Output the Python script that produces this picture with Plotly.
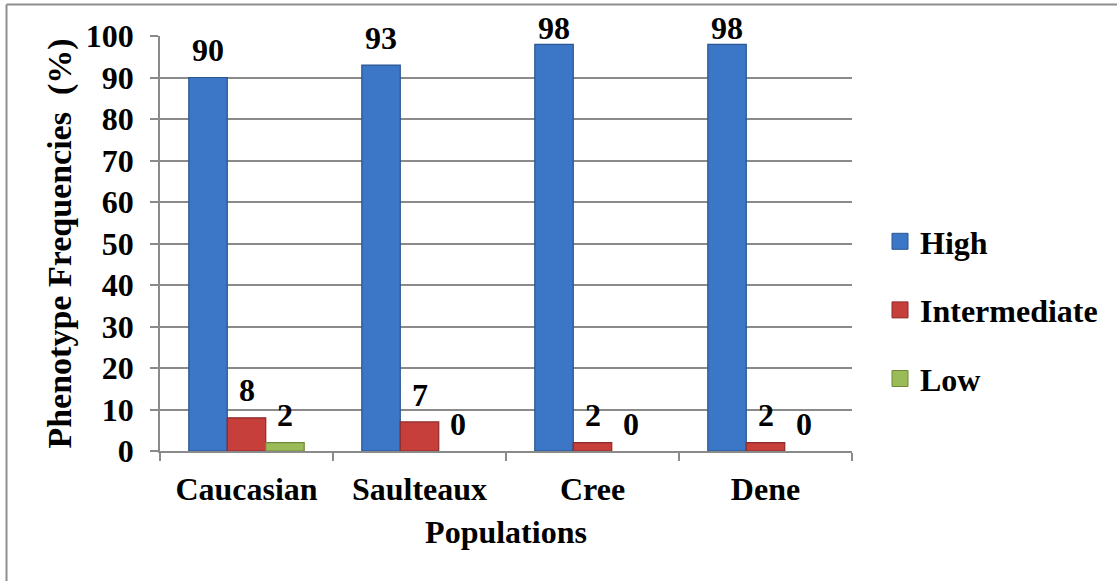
import plotly.graph_objects as go

# Phenotype frequencies (%) by population
populations = ["Caucasian", "Saulteaux", "Cree", "Dene"]
high = [90, 93, 98, 98]
intermediate = [8, 7, 2, 2]
low = [2, 0, 0, 0]

series_names = ["High", "Intermediate", "Low"]
series_values = [high, intermediate, low]
fill_colors = ["#3c76c6", "#c63f3b", "#9bbb59"]
edge_colors = ["#2a5590", "#8c2b28", "#6e8a38"]

FONT = "Liberation Serif, Times New Roman, serif"
FS = 32
W, H = 1117, 581
L, R, T, B = 160, 265, 36, 130
plot_w, plot_h = W - L - R, H - T - B
px_per_unit = plot_h / 100

fig = go.Figure()
for name, vals, fc, ec in zip(series_names, series_values, fill_colors, edge_colors):
    fig.add_trace(go.Bar(
        name=name, x=populations, y=vals, showlegend=False,
        marker=dict(color=fc, line=dict(color=ec, width=[1.2 if v > 0 else 0 for v in vals])),
    ))
# legend entries with larger square swatches
for name, fc, ec in zip(series_names, fill_colors, edge_colors):
    fig.add_trace(go.Scatter(
        name=f"<b>{name}</b>", x=[None], y=[None], mode="markers", legendgroup=name,
        marker=dict(symbol="square", size=16, color=fc, line=dict(color=ec, width=1)),
    ))

# value labels above each bar, kept inside the top of the chart
bargap = 0.333
bar_w = (1 - bargap) / 3
annotations = []
for k, vals in enumerate(series_values):
    for i, v in enumerate(vals):
        annotations.append(dict(
            x=i + (k - 1) * bar_w, y=v, xref="x", yref="y",
            yshift=min(6.6, 101.9 - v) * px_per_unit,
            text=f"<b>{v}</b>", showarrow=False, yanchor="middle", xanchor="center",
            font=dict(family=FONT, size=FS, color="black"),
        ))

# chart frame (top and left edges)
def px_x(p):
    return (p - L) / plot_w

def px_y(p):
    return (H - B - p) / plot_h

shapes = [
    dict(type="line", xref="paper", yref="paper", x0=px_x(6.5), x1=px_x(1200),
         y0=px_y(4.5), y1=px_y(4.5), line=dict(color="#8e8e8e", width=2)),
    dict(type="line", xref="paper", yref="paper", x0=px_x(6.5), x1=px_x(6.5),
         y0=px_y(4.5), y1=px_y(700), line=dict(color="#8e8e8e", width=2)),
]

fig.update_layout(
    width=W, height=H,
    margin=dict(l=L, r=R, t=T, b=B),
    paper_bgcolor="white", plot_bgcolor="white",
    barmode="group", bargap=bargap, bargroupgap=0,
    font=dict(family=FONT, size=FS, color="black"),
    annotations=annotations, shapes=shapes,
    legend=dict(
        x=px_x(880), y=px_y(310), xanchor="left", yanchor="middle",
        font=dict(family=FONT, size=FS, color="black"),
        traceorder="grouped", tracegroupgap=24, itemwidth=30,
        bgcolor="rgba(0,0,0,0)",
    ),
    xaxis=dict(
        title=dict(text="<b>Populations</b>", font=dict(family=FONT, size=FS), standoff=14),
        tickmode="array", tickvals=populations,
        ticktext=[f"<b>{p}</b>" for p in populations],
        tickson="boundaries", ticks="outside", ticklen=8, tickcolor="#8a8a8a", tickwidth=1.5,
        showline=True, linecolor="#8a8a8a", linewidth=1.5,
        showgrid=False, ticklabelstandoff=9,
    ),
    yaxis=dict(
        title=dict(text="<b>Phenotype Frequencies  (%)</b>", font=dict(family=FONT, size=34), standoff=4),
        range=[0, 100], tickmode="linear", tick0=0, dtick=10,
        tickprefix="<b>", ticksuffix="</b>",
        ticks="outside", ticklen=8, tickcolor="#8a8a8a", tickwidth=1.5,
        showline=True, linecolor="#8a8a8a", linewidth=1.5,
        showgrid=True, gridcolor="#8a8a8a", gridwidth=1.5,
        zeroline=False, ticklabelstandoff=10,
    ),
)

fig.write_html("out.html")
